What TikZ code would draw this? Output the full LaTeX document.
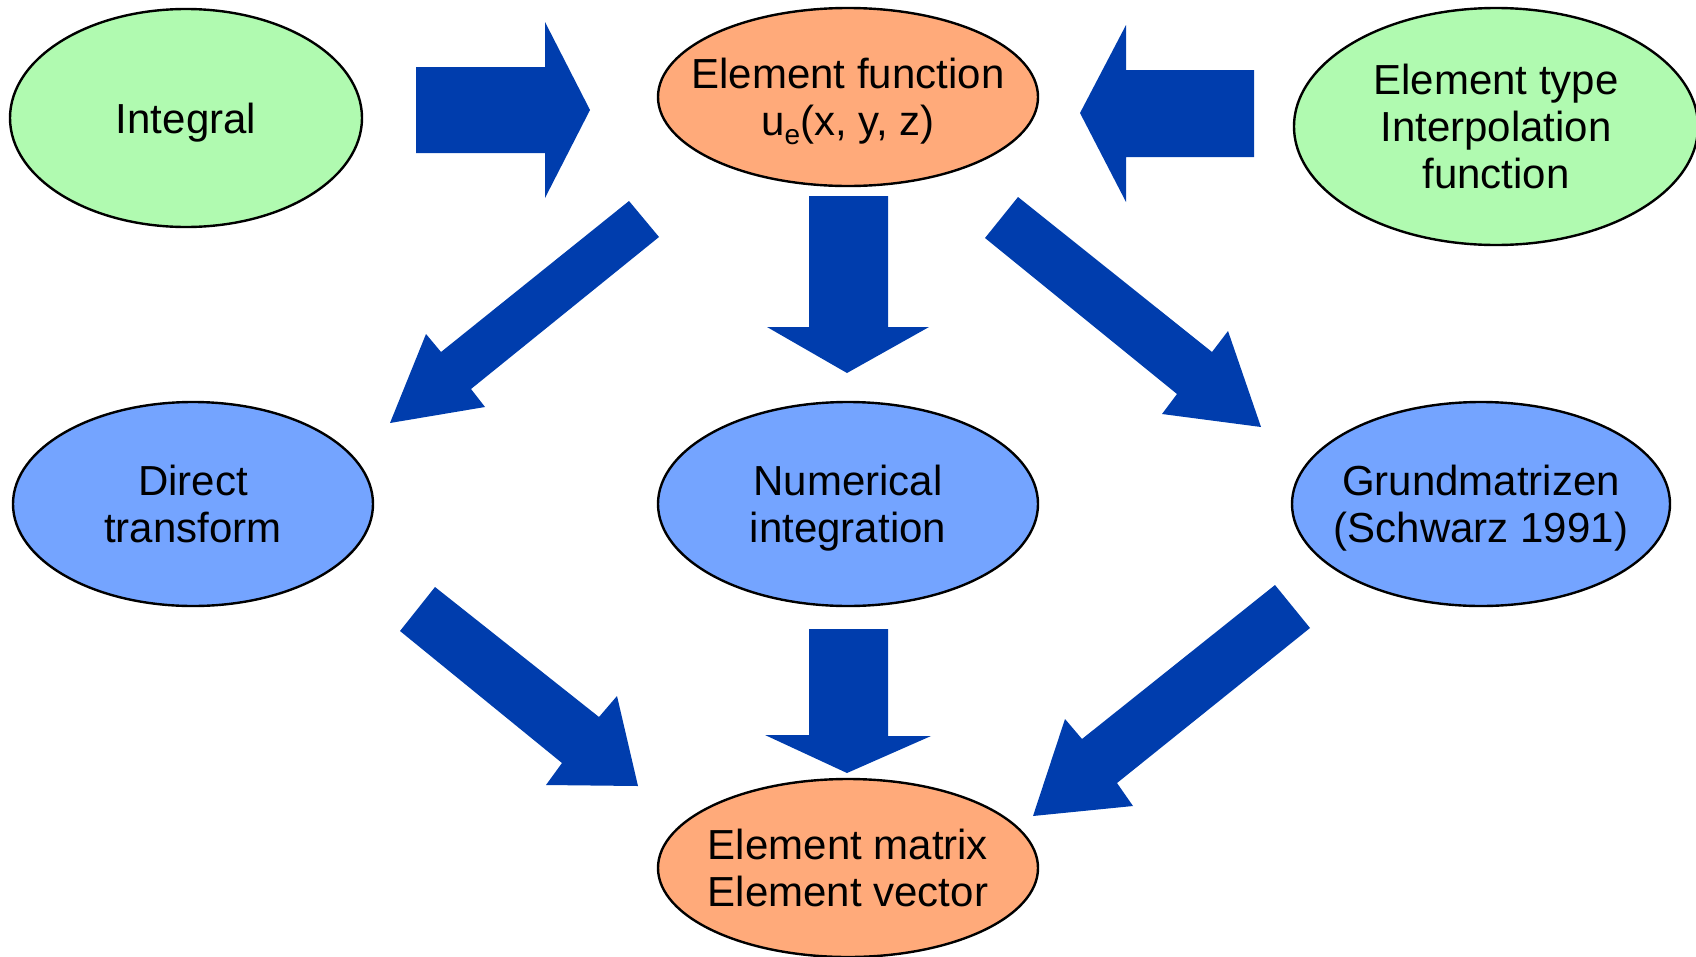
\documentclass[tikz,border=0pt]{standalone}
\usepackage{fontspec}
\setmainfont{Liberation Sans}
\usetikzlibrary{shapes.geometric}
\definecolor{inputgreen}{RGB}{176,250,176}
\definecolor{keyorange}{RGB}{255,170,122}
\definecolor{methodblue}{RGB}{116,164,255}
\definecolor{arrowblue}{RGB}{0,61,173}
\tikzset{
  bubble/.style={ellipse, draw=black, line width=2.4pt, inner sep=0pt},
  txt/.style={font=\fontsize{42}{47}\selectfont, align=center, text=black, inner sep=0pt, text depth=0pt},
  blockarrow/.style={fill=arrowblue, draw=none}
}
\begin{document}
\begin{tikzpicture}[x=1pt, y=-1pt]
\useasboundingbox (0,0) rectangle (1696,956);

% ellipses
\node[bubble, fill=inputgreen, minimum width=352pt, minimum height=218pt,
      label={[txt]center:Integral}] (integral) at (186,118) {};
\node[bubble, fill=keyorange, minimum width=380pt, minimum height=178pt,
      label={[txt]center:Element function\\u\raisebox{-9pt}{\fontsize{28}{28}\selectfont e}(x, y, z)}] (efunc) at (848,97) {};
\node[bubble, fill=inputgreen, minimum width=404pt, minimum height=237pt,
      label={[txt]center:Element type\\Interpolation\\function}] (etype) at (1496,126.5) {};
\node[bubble, fill=methodblue, minimum width=360pt, minimum height=204pt,
      label={[txt]center:Direct\\transform}] (direct) at (193,504) {};
\node[bubble, fill=methodblue, minimum width=380pt, minimum height=204pt,
      label={[txt]center:Numerical\\integration}] (numint) at (848,504) {};
\node[bubble, fill=methodblue, minimum width=378pt, minimum height=204pt,
      label={[txt]center:Grundmatrizen\\(Schwarz 1991)}] (grund) at (1481,504) {};
\node[bubble, fill=keyorange, minimum width=380pt, minimum height=178pt,
      label={[txt]center:Element matrix\\Element vector}] (emat) at (848,868) {};

% block arrows
\fill[blockarrow] (416,67) -- (545,67) -- (545,22) -- (590,110) -- (545,198) -- (545,153) -- (416,153) -- cycle;
\fill[blockarrow] (1254,70) -- (1126,70) -- (1126,25) -- (1080,113) -- (1126,202) -- (1126,157) -- (1254,157) -- cycle;
\fill[blockarrow] (809,196) -- (888,196) -- (888,327) -- (929,327) -- (847,373) -- (767,327) -- (809,327) -- cycle;
\fill[blockarrow] (629,201) -- (659,237) -- (471,389) -- (485,407) -- (390,423) -- (426,334) -- (441,352) -- cycle;
\fill[blockarrow] (1018,197) -- (1212,352) -- (1228,331) -- (1261,427) -- (1162,414) -- (1177,394) -- (985,238) -- cycle;
\fill[blockarrow] (435,587) -- (599,717) -- (617,696) -- (638,786) -- (546,785) -- (562,763) -- (400,631) -- cycle;
\fill[blockarrow] (809,629) -- (888,629) -- (888,736) -- (931,736) -- (847,773) -- (765,735) -- (809,735) -- cycle;
\fill[blockarrow] (1275,585) -- (1082,739) -- (1065,719) -- (1033,816) -- (1133,806) -- (1117,783) -- (1310,628) -- cycle;
\end{tikzpicture}
\end{document}
